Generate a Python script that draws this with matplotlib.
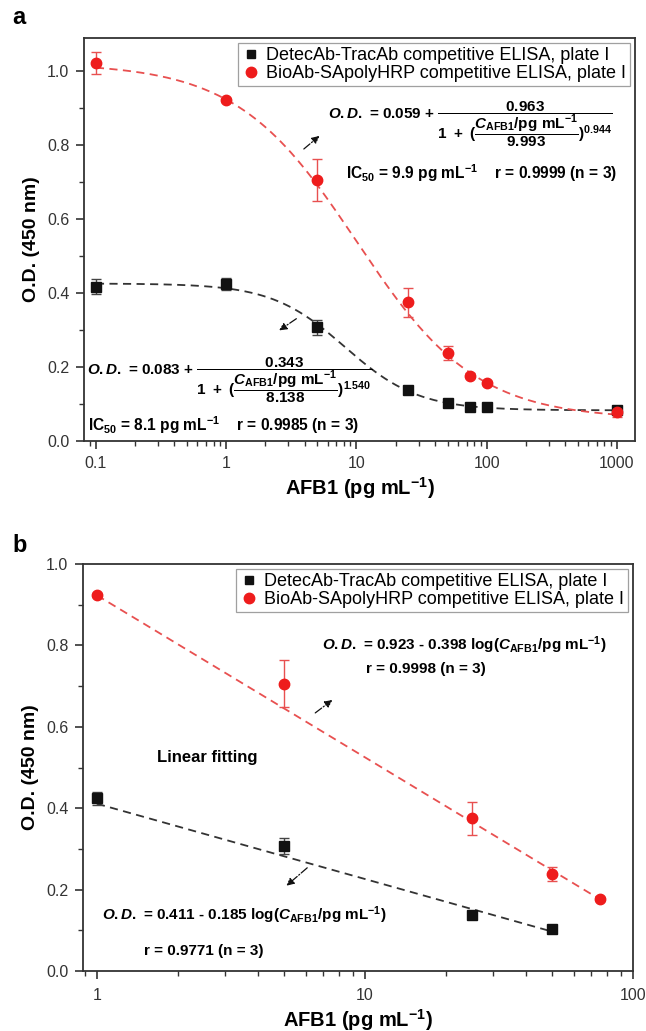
import numpy as np
import matplotlib
matplotlib.use("Agg")
import matplotlib.pyplot as plt
from matplotlib.lines import Line2D
from matplotlib.ticker import LogLocator, NullFormatter, MultipleLocator, FixedLocator, FixedFormatter

plt.rcParams['font.family'] = ['Liberation Sans', 'DejaVu Sans']
plt.rcParams['mathtext.fontset'] = 'custom'
plt.rcParams['mathtext.rm'] = 'Liberation Sans:bold'
plt.rcParams['mathtext.bf'] = 'Liberation Sans:bold'
plt.rcParams['mathtext.it'] = 'Liberation Sans:bold:italic'
plt.rcParams['mathtext.default'] = 'rm'

# ---------------- data: panel a ----------------
conc_a = [0.1, 1, 5, 25, 50, 75, 100, 1000]
od_black_a = [0.417, 0.424, 0.308, 0.137, 0.103, 0.093, 0.093, 0.083]
err_black_a = [0.020, 0.016, 0.020, 0.005, 0.005, 0.004, 0.004, 0.010]
od_red_a = [1.022, 0.923, 0.706, 0.375, 0.238, 0.177, 0.157, 0.078]
err_red_a = [0.030, 0.005, 0.057, 0.040, 0.018, 0.006, 0.005, 0.012]

# four-parameter fits (as printed on the chart)
fit_black = dict(A=0.083, B=0.343, C=8.138, n=1.540)
fit_red = dict(A=0.059, B=0.963, C=9.993, n=0.944)

# ---------------- data: panel b ----------------
conc_b_black = [1, 5, 25, 50]
od_black_b = [0.424, 0.308, 0.137, 0.103]
err_black_b = [0.016, 0.020, 0.005, 0.004]
conc_b_red = [1, 5, 25, 50, 75]
od_red_b = [0.923, 0.706, 0.375, 0.238, 0.177]
err_red_b = [0.005, 0.057, 0.040, 0.018, 0.006]
lin_black = dict(a=0.411, b=0.185)
lin_red = dict(a=0.923, b=0.398)

legend_labels = ["DetecAb-TracAb competitive ELISA, plate I",
                 "BioAb-SApolyHRP competitive ELISA, plate I"]

RED = '#ee1c1c'
RED_L = '#e85050'
BLK = '#111111'
AXC = '#333333'

W, H = 646, 1031
fig = plt.figure(figsize=(W / 100, H / 100), dpi=100)

def px_axes(l, t, r, b):
    return fig.add_axes([l / W, 1 - b / H, (r - l) / W, (b - t) / H])

axa = px_axes(84, 38, 635, 441)
axb = px_axes(83, 564, 633, 971)

def style(ax):
    for s in ax.spines.values():
        s.set_color(AXC)
        s.set_linewidth(1.3)
    ax.tick_params(which='both', direction='out', color=AXC, top=False, right=False,
                   labelsize=11.5, labelcolor='#333333', pad=4.5)
    ax.tick_params(which='major', length=6, width=1.2)
    ax.tick_params(which='minor', length=3.5, width=1.0)

def logistic(x, p):
    return p['A'] + p['B'] / (1 + (x / p['C']) ** p['n'])

def add_legend(ax):
    handles = [Line2D([], [], ls='none', marker='s', color=BLK, ms=6),
               Line2D([], [], ls='none', marker='o', color=RED, ms=7.5)]
    leg = ax.legend(handles, legend_labels, loc='upper right', fontsize=13, frameon=True,
                    fancybox=False, edgecolor='#888888', borderaxespad=0.3,
                    handletextpad=0.35, handlelength=1.0, borderpad=0.2, labelspacing=0.08)
    leg.get_frame().set_linewidth(0.9)

LS = (0, (4.5, 3))
arrow_kw = dict(arrowstyle='-|>', color='#111111', lw=0.9, linestyle='-.', mutation_scale=11)

# ---------- panel a ----------
ax = axa
ax.set_xscale('log')
xx = np.logspace(-1, 3, 300)
ax.plot(xx, logistic(xx, fit_black), ls=LS, color='#333333', lw=1.3, zorder=2)
ax.plot(xx, logistic(xx, fit_red), ls=LS, color=RED_L, lw=1.3, zorder=2)
ax.errorbar(conc_a, od_black_a, yerr=err_black_a, fmt='s', color=BLK, ms=6.5,
            ecolor='#444444', elinewidth=1, capsize=3.5, capthick=1, zorder=4)
ax.errorbar(conc_a, od_red_a, yerr=err_red_a, fmt='o', color=RED, ms=7.5,
            ecolor=RED_L, elinewidth=1, capsize=3.5, capthick=1, zorder=4)
ax.set_xlim(0.081, 1375)
ax.set_ylim(0, 1.09)
ax.xaxis.set_major_locator(FixedLocator([0.1, 1, 10, 100, 1000]))
ax.xaxis.set_major_formatter(FixedFormatter(['0.1', '1', '10', '100', '1000']))
ax.xaxis.set_minor_locator(LogLocator(base=10, subs=np.arange(2, 10), numticks=20))
ax.xaxis.set_minor_formatter(NullFormatter())
ax.yaxis.set_major_locator(MultipleLocator(0.2))
ax.yaxis.set_minor_locator(MultipleLocator(0.1))
ax.yaxis.set_major_formatter(plt.FuncFormatter(lambda v, p: f'{v:.1f}'))
style(ax)
ax.set_xlabel(r'AFB1 (pg mL$^{-1}$)', fontsize=14.5, fontweight='bold', labelpad=3)
ax.set_ylabel('O.D. (450 nm)', fontsize=14, fontweight='bold', labelpad=5)
add_legend(ax)

eq_red_a = (r'$\mathit{O.D.}$ = 0.059 + $\dfrac{0.963}{1\ +\ (\dfrac{\mathit{C}_{AFB1}/pg\ mL^{-1}}{9.993})^{0.944}}$')
ax.text(0.443, 0.785, eq_red_a, transform=ax.transAxes, fontsize=11, fontweight='bold', va='center')
ax.text(0.475, 0.665, r'IC$_{50}$ = 9.9 pg mL$^{-1}$    r = 0.9999 (n = 3)', transform=ax.transAxes,
        fontsize=11.2, fontweight='bold', va='center')
eq_blk_a = (r'$\mathit{O.D.}$ = 0.083 + $\dfrac{0.343}{1\ +\ (\dfrac{\mathit{C}_{AFB1}/pg\ mL^{-1}}{8.138})^{1.540}}$')
ax.text(0.006, 0.15, eq_blk_a, transform=ax.transAxes, fontsize=11, fontweight='bold', va='center')
ax.text(0.008, 0.04, r'IC$_{50}$ = 8.1 pg mL$^{-1}$    r = 0.9985 (n = 3)', transform=ax.transAxes,
        fontsize=11.2, fontweight='bold', va='center')

ax.annotate('', xy=(5.4, 0.83), xytext=(3.8, 0.785), arrowprops=arrow_kw)
ax.annotate('', xy=(2.45, 0.295), xytext=(3.6, 0.335), arrowprops=arrow_kw)

# ---------- panel b ----------
ax = axb
ax.set_xscale('log')
xr = np.logspace(0, np.log10(75), 100)
xbk = np.logspace(0, np.log10(50), 100)
ax.plot(xbk, lin_black['a'] - lin_black['b'] * np.log10(xbk), ls=LS, color='#333333', lw=1.3, zorder=2)
ax.plot(xr, lin_red['a'] - lin_red['b'] * np.log10(xr), ls=LS, color=RED_L, lw=1.3, zorder=2)
ax.errorbar(conc_b_black, od_black_b, yerr=err_black_b, fmt='s', color=BLK, ms=6.5,
            ecolor='#444444', elinewidth=1, capsize=3.5, capthick=1, zorder=4)
ax.errorbar(conc_b_red, od_red_b, yerr=err_red_b, fmt='o', color=RED, ms=7.5,
            ecolor=RED_L, elinewidth=1, capsize=3.5, capthick=1, zorder=4)
ax.set_xlim(0.887, 100)
ax.set_ylim(0, 1.0)
ax.xaxis.set_major_locator(FixedLocator([1, 10, 100]))
ax.xaxis.set_major_formatter(FixedFormatter(['1', '10', '100']))
ax.xaxis.set_minor_locator(LogLocator(base=10, subs=np.arange(2, 10), numticks=20))
ax.xaxis.set_minor_formatter(NullFormatter())
ax.yaxis.set_major_locator(MultipleLocator(0.2))
ax.yaxis.set_minor_locator(MultipleLocator(0.1))
ax.yaxis.set_major_formatter(plt.FuncFormatter(lambda v, p: f'{v:.1f}'))
style(ax)
ax.tick_params(axis='x', pad=6)
ax.set_xlabel(r'AFB1 (pg mL$^{-1}$)', fontsize=14.5, fontweight='bold', labelpad=3)
ax.set_ylabel('O.D. (450 nm)', fontsize=14, fontweight='bold', labelpad=5)
add_legend(ax)

ax.text(0.435, 0.80, r'$\mathit{O.D.}$ = 0.923 - 0.398 log($\mathit{C}_{AFB1}$/pg mL$^{-1}$)',
        transform=ax.transAxes, fontsize=11, fontweight='bold', va='center')
ax.text(0.515, 0.743, 'r = 0.9998 (n = 3)', transform=ax.transAxes, fontsize=11,
        fontweight='bold', va='center')
ax.text(0.135, 0.525, 'Linear fitting', transform=ax.transAxes, fontsize=12,
        fontweight='bold', va='center')
ax.text(0.035, 0.137, r'$\mathit{O.D.}$ = 0.411 - 0.185 log($\mathit{C}_{AFB1}$/pg mL$^{-1}$)',
        transform=ax.transAxes, fontsize=11, fontweight='bold', va='center')
ax.text(0.11, 0.05, 'r = 0.9771 (n = 3)', transform=ax.transAxes, fontsize=11,
        fontweight='bold', va='center')
ax.annotate('', xy=(7.7, 0.67), xytext=(6.4, 0.63), arrowprops=arrow_kw)
ax.annotate('', xy=(5.0, 0.205), xytext=(6.2, 0.258), arrowprops=arrow_kw)

fig.text(12 / W, 1 - 18 / H, 'a', fontsize=17, fontweight='bold', va='center')
fig.text(12 / W, 1 - 545 / H, 'b', fontsize=17, fontweight='bold', va='center')

fig.savefig('out.png', dpi=100)
